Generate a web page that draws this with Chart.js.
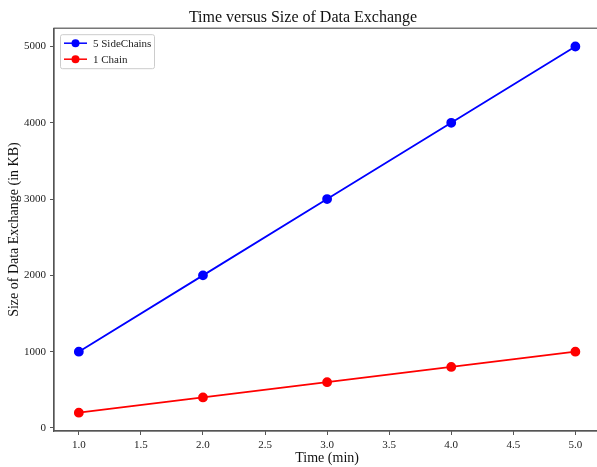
<!DOCTYPE html>
<html>
<head>
<meta charset="utf-8">
<script src="https://cdn.jsdelivr.net/npm/chart.js@4"></script>
<style>
  html, body { margin: 0; padding: 0; background: #fff; overflow: hidden; }
  #wrap { width: 597px; height: 467px; overflow: hidden; }
</style>
</head>
<body>
<div id="wrap"><canvas id="myChart" width="606" height="467"></canvas></div>
<script>
// Datos
const times = [1, 2, 3, 4, 5];
const sideChains = [1000, 2000, 3000, 4000, 5000];
const oneChain = [200, 400, 600, 800, 1000];
const xTicks = [1, 1.5, 2, 2.5, 3, 3.5, 4, 4.5, 5];
const yTicks = [0, 1000, 2000, 3000, 4000, 5000];

const serif = "'Liberation Serif', 'DejaVu Serif', serif";
const axisColor = "#555";

// Marco del area (los 4 lados como matplotlib)
const framePlugin = {
    id: "frame",
    afterDatasetsDraw(chart) {
        const { ctx, chartArea: a } = chart;
        ctx.save();
        ctx.strokeStyle = axisColor;
        ctx.lineWidth = 1.2;
        ctx.strokeRect(a.left, a.top, a.right - a.left, a.bottom - a.top);
        ctx.restore();
    }
};

// Leyenda dentro del area, arriba a la izquierda
const legendPlugin = {
    id: "innerLegend",
    afterDraw(chart) {
        const { ctx, chartArea: a } = chart;
        const x = a.left + 6, y = a.top + 6, w = 94, h = 34;
        ctx.save();
        ctx.fillStyle = "rgba(255,255,255,0.8)";
        ctx.strokeStyle = "#ccc";
        ctx.lineWidth = 1;
        ctx.beginPath();
        ctx.roundRect(x + 0.5, y + 0.5, w, h, 2);
        ctx.fill();
        ctx.stroke();
        ctx.font = "11px " + serif;
        ctx.textBaseline = "middle";
        chart.data.datasets.forEach((ds, i) => {
            const cy = y + 9 + i * 16;
            ctx.strokeStyle = ds.borderColor;
            ctx.lineWidth = 1.5;
            ctx.beginPath();
            ctx.moveTo(x + 4, cy);
            ctx.lineTo(x + 27, cy);
            ctx.stroke();
            ctx.fillStyle = ds.borderColor;
            ctx.beginPath();
            ctx.arc(x + 15.5, cy, 4, 0, Math.PI * 2);
            ctx.fill();
            ctx.fillStyle = "#222";
            ctx.fillText(ds.label, x + 33, cy + 1);
        });
        ctx.restore();
    }
};

const ctx = document.getElementById("myChart").getContext("2d");
new Chart(ctx, {
    type: "line",
    data: {
        datasets: [
            {
                label: "5 SideChains",
                data: times.map((t, i) => ({ x: t, y: sideChains[i] })),
                borderColor: "#0000ff",
                backgroundColor: "#0000ff",
                borderWidth: 1.8,
                pointRadius: 4,
                pointHoverRadius: 4
            },
            {
                label: "1 Chain",
                data: times.map((t, i) => ({ x: t, y: oneChain[i] })),
                borderColor: "#ff0000",
                backgroundColor: "#ff0000",
                borderWidth: 1.8,
                pointRadius: 4,
                pointHoverRadius: 4
            }
        ]
    },
    options: {
        responsive: false,
        animation: false,
        layout: { padding: { left: 0, right: 0, top: 0, bottom: 0 } },
        plugins: {
            legend: { display: false },
            tooltip: { enabled: false },
            title: {
                display: true,
                text: "Time versus Size of Data Exchange",
                color: "#111",
                font: { family: serif, size: 16, weight: "normal" },
                padding: { top: 8, bottom: 1 }
            }
        },
        scales: {
            x: {
                type: "linear",
                min: 0.8,
                max: 5.2,
                afterBuildTicks: axis => { axis.ticks = xTicks.map(v => ({ value: v })); },
                afterFit: axis => { axis.height = 36; },
                ticks: {
                    color: "#222",
                    font: { family: serif, size: 11 },
                    padding: 4,
                    maxRotation: 0,
                    callback: v => v.toFixed(1)
                },
                grid: { drawOnChartArea: false, tickLength: 4, tickColor: axisColor },
                border: { color: axisColor, width: 1.2 },
                title: {
                    display: true,
                    text: "Time (min)",
                    color: "#111",
                    font: { family: serif, size: 14 },
                    padding: { top: 0, bottom: 0 }
                }
            },
            y: {
                type: "linear",
                min: -40,
                max: 5240,
                afterBuildTicks: axis => { axis.ticks = yTicks.map(v => ({ value: v })); },
                afterFit: axis => { axis.width = 54; },
                ticks: {
                    color: "#222",
                    font: { family: serif, size: 11 },
                    padding: 4,
                    callback: v => String(v)
                },
                grid: { drawOnChartArea: false, tickLength: 4, tickColor: axisColor },
                border: { color: axisColor, width: 1.2 },
                title: {
                    display: true,
                    text: "Size of Data Exchange (in KB)",
                    color: "#111",
                    font: { family: serif, size: 14 },
                    padding: { top: 6, bottom: 0 }
                }
            }
        }
    },
    plugins: [framePlugin, legendPlugin]
});
</script>
</body>
</html>
